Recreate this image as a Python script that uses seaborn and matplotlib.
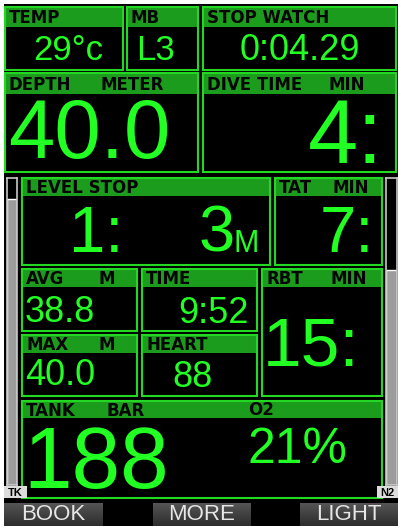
import matplotlib
matplotlib.use("Agg")
import matplotlib.pyplot as plt
import numpy as np
import pandas as pd
import seaborn as sns
from matplotlib.patches import Rectangle

# readout values (what the dive computer shows)
box_names = ["temp", "mb", "stop", "depth", "dive", "level", "tat",
             "avg", "time", "rbt", "max", "heart", "tank"]
header_left = ["TEMP", "MB", "STOP WATCH", "DEPTH", "DIVE TIME", "LEVEL STOP",
               "TAT", "AVG", "TIME", "RBT", "MAX", "HEART", "TANK"]
header_unit = ["", "", "", "METER", "MIN", "", "MIN", "M", "", "MIN", "M", "", "BAR"]
readings = ["29°c", "L3", "0:04.29", "40.0", "4:", "1:", "7:",
            "38.8", "9:52", "15:", "40.0", "88", "188"]
stop_depth = "3"
stop_unit = "M"
gas_label = "O2"
gas_value = "21%"
gauge_names = ["TK", "N2"]
gauge_levels = [0.93, 0.70]
buttons = ["BOOK", "MORE", "LIGHT"]

# layout in screen pixels (x0, y0, x1, y1, header bottom)
boxes = {
    "temp": (5, 7, 123, 70, 27), "mb": (127, 7, 198, 70, 27),
    "stop": (203, 7, 396, 70, 27), "depth": (5, 73, 198, 172, 94),
    "dive": (203, 73, 396, 172, 94), "level": (22, 178, 270, 265, 196),
    "tat": (275, 178, 382, 265, 196), "avg": (22, 269, 137, 331, 287),
    "time": (142, 269, 257, 331, 287), "rbt": (262, 269, 382, 396, 287),
    "max": (22, 335, 137, 396, 353), "heart": (142, 335, 257, 396, 353),
    "tank": (22, 401, 382, 498, 418),
}
unit_x = {"depth": 100, "dive": 328, "tat": 332, "avg": 98, "rbt": 330,
          "max": 98, "tank": 107}
# (x, baseline, size pt, ha)
value_pos = {
    "temp": (33, 60, 25, "left"), "mb": (136, 60, 25, "left"),
    "stop": (300, 60, 26, "center"), "depth": (8, 158, 60, "left"),
    "dive": (383, 163, 65, "right"), "level": (123, 252, 47, "right"),
    "tat": (374, 252, 47, "right"), "avg": (25, 322, 26, "left"),
    "time": (249, 323, 26, "right"), "rbt": (360, 365, 50, "right"),
    "max": (25, 385, 26, "left"), "heart": (192, 387, 26, "center"),
    "tank": (23, 488, 63, "left"),
}

W, H = 398, 526
GREEN = "#22ff22"
EDGE = "#22d822"
HEAD = "#1c9c1c"
HEAD_FONT = dict(family=["DejaVu Sans"], fontsize=12, fontweight="bold",
                 color="#050505", va="center", ha="left")

sns.set_theme(style="white")
plt.rcParams["font.family"] = ["Liberation Sans", "DejaVu Sans"]

fig = plt.figure(figsize=(W / 100, H / 100), dpi=100)
fig.patch.set_facecolor("white")
ax = fig.add_axes([0, 0, 1, 1])
ax.set_xlim(0, W)
ax.set_ylim(H, 0)
ax.axis("off")

ax.add_patch(Rectangle((4, 4), W - 4, H - 4, facecolor="black", edgecolor="none"))

for name, head, unit, val in zip(box_names, header_left, header_unit, readings):
    x0, y0, x1, y1, hb = boxes[name]
    ax.add_patch(Rectangle((x0, y0), x1 - x0, hb - y0, facecolor=HEAD,
                           edgecolor="none"))
    frame = Rectangle((x0, y0), x1 - x0, y1 - y0, fill=False,
                      edgecolor=EDGE, lw=1.5)
    ax.add_patch(frame)
    ax.text(x0 + 4, (y0 + hb) / 2 + 1, head, **HEAD_FONT)
    if unit:
        ax.text(unit_x[name], (y0 + hb) / 2 + 1, unit, **HEAD_FONT)
    vx, vy, vs, ha = value_pos[name]
    t = ax.text(vx, vy, val, color=GREEN, fontsize=vs, ha=ha, va="baseline")
    t.set_clip_path(frame)

ax.text(235, 252, stop_depth, color=GREEN, fontsize=47, ha="right", va="baseline")
ax.text(234, 252, stop_unit, color=GREEN, fontsize=22, ha="left", va="baseline")
ax.text(248, 410, gas_label, **HEAD_FONT)
ax.text(247, 463, gas_value, color=GREEN, fontsize=36, ha="left", va="baseline")

# side gauges
gauge_rects = [(7, 178, 17, 485), (386, 178, 397, 485)]
label_rects = [(4, 486, 27, 498), (377, 486, 398, 498)]
for (gx0, gy0, gx1, gy1), lvl in zip(gauge_rects, gauge_levels):
    gax = fig.add_axes([gx0 / W, 1 - gy1 / H, (gx1 - gx0) / W, (gy1 - gy0) / H])
    sns.barplot(data=pd.DataFrame({"g": [0], "v": [lvl]}), x="g", y="v",
                color="#9c9c9c", saturation=1, width=1, ax=gax)
    gax.set_facecolor("black")
    gax.set_ylim(0, 1)
    gax.set_xlim(-0.5, 0.5)
    gax.set_xticks([])
    gax.set_yticks([])
    gax.set_xlabel("")
    gax.set_ylabel("")
    for s in gax.spines.values():
        s.set_visible(True)
        s.set_color("#c8c8c8")
        s.set_linewidth(1.2)
for (lx0, ly0, lx1, ly1), lab in zip(label_rects, gauge_names):
    ax.add_patch(Rectangle((lx0, ly0), lx1 - lx0, ly1 - ly0, facecolor="#dcdcdc",
                           edgecolor="none"))
    ax.text((lx0 + lx1) / 2, (ly0 + ly1) / 2 + 0.5, lab, color="black",
            fontsize=8, fontweight="bold", ha="center", va="center")

# soft buttons
button_x = [(4, 103), (153, 251), (300, 398)]
grad = np.linspace(0, 1, 50).reshape(-1, 1)
for (bx0, bx1), lab in zip(button_x, buttons):
    ax.imshow(grad, cmap=matplotlib.colors.LinearSegmentedColormap.from_list(
        "btn", ["#555555", "#2c2c2c"]), extent=(bx0, bx1, 526, 503),
        aspect="auto", zorder=2)
    ax.text((bx0 + bx1) / 2, 515, lab, color="#e6e6e6", fontsize=16,
            ha="center", va="center", zorder=3)
ax.set_xlim(0, W)
ax.set_ylim(H, 0)

fig.savefig("out.png", dpi=100, facecolor="white")
